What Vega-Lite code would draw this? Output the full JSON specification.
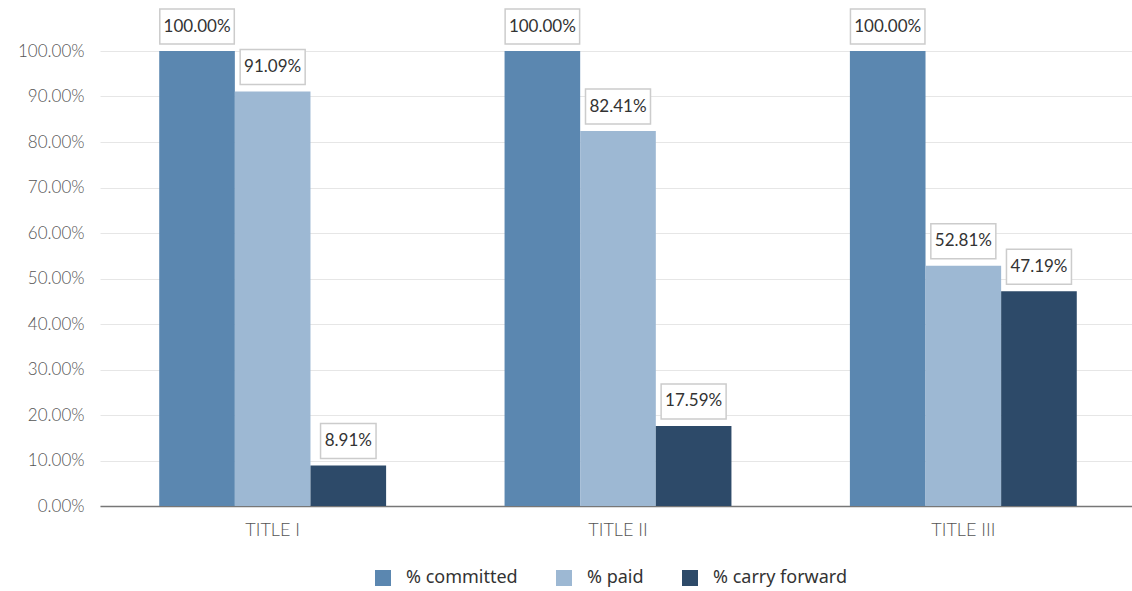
{
  "$schema": "https://vega.github.io/schema/vega-lite/v6.json",
  "width": 1036,
  "height": 455,
  "autosize": {"type": "none"},
  "padding": {"left": 100, "top": 51, "right": 0, "bottom": 85},
  "background": "white",
  "config": {"view": {"stroke": null}, "font": "Lato"},
  "data": {"values": [
    {"title": "TITLE I", "series": "% committed", "v": 1.0},
    {"title": "TITLE I", "series": "% paid", "v": 0.9109},
    {"title": "TITLE I", "series": "% carry forward", "v": 0.0891},
    {"title": "TITLE II", "series": "% committed", "v": 1.0},
    {"title": "TITLE II", "series": "% paid", "v": 0.8241},
    {"title": "TITLE II", "series": "% carry forward", "v": 0.1759},
    {"title": "TITLE III", "series": "% committed", "v": 1.0},
    {"title": "TITLE III", "series": "% paid", "v": 0.5281},
    {"title": "TITLE III", "series": "% carry forward", "v": 0.4719}
  ]},
  "encoding": {
    "x": {"field": "title", "type": "nominal", "sort": null,
      "scale": {"paddingInner": 0.343, "paddingOuter": 0.1715},
      "axis": {"title": null, "labelAngle": 0, "domain": true, "domainColor": "#777777", "domainWidth": 1.5, "ticks": false,
        "labelFont": "Lato", "labelFontWeight": 300, "labelFontSize": 18, "labelColor": "#555555", "labelPadding": 15}},
    "xOffset": {"field": "series", "type": "nominal", "sort": ["% committed", "% paid", "% carry forward"],
      "scale": {"paddingInner": 0, "paddingOuter": 0}},
    "y": {"field": "v", "type": "quantitative", "scale": {"domain": [0, 1]},
      "axis": {"format": ".2%", "values": [0, 0.1, 0.2, 0.3, 0.4, 0.5, 0.6, 0.7, 0.8, 0.9, 1.0], "title": null,
        "domain": false, "ticks": false, "grid": true, "gridColor": "#e6e6e6",
        "labelFont": "Lato", "labelFontWeight": 300, "labelFontSize": 17, "labelColor": "#555555", "labelPadding": 16}}
  },
  "layer": [
    {"mark": {"type": "bar"},
     "encoding": {"color": {"field": "series", "type": "nominal",
       "scale": {"domain": ["% committed", "% paid", "% carry forward"], "range": ["#5B87B0", "#9DB8D3", "#2D4A69"]},
       "legend": {"orient": "none", "legendX": 274, "legendY": 518, "direction": "horizontal", "title": null,
         "symbolType": "square", "symbolSize": 256, "symbolStrokeWidth": 0, "labelFont": "Noto Sans",
         "labelFontSize": 18, "labelColor": "#333333", "columnPadding": 37, "labelOffset": 14, "padding": 0}}}},
    {"mark": {"type": "rect", "fill": "white", "stroke": "#cccccc", "strokeWidth": 1.5, "yOffset": -42, "y2Offset": -7,
       "width": {"expr": "length(format(datum.v, '.2%')) * 9.5 + 8"}},
     "encoding": {"y2": {"field": "v"}}},
    {"mark": {"type": "text", "fontSize": 17, "color": "#333333", "font": "Lato", "yOffset": -24.5, "baseline": "middle"},
     "encoding": {"text": {"field": "v", "type": "quantitative", "format": ".2%"}}}
  ]
}
